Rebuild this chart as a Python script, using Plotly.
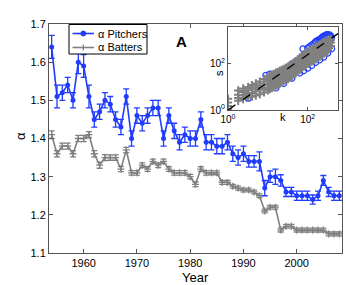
import plotly.graph_objects as go

# ---------------- data ----------------
years = list(range(1954, 2009))
alpha_pitchers = [1.64, 1.51, 1.52, 1.54, 1.50, 1.60, 1.59, 1.51, 1.45, 1.47,
                  1.50, 1.49, 1.45, 1.43, 1.51, 1.40, 1.46, 1.44, 1.46, 1.48,
                  1.48, 1.40, 1.46, 1.42, 1.39, 1.41, 1.40, 1.40, 1.45, 1.39,
                  1.39, 1.38, 1.38, 1.39, 1.36, 1.35, 1.36, 1.34, 1.34, 1.34,
                  1.27, 1.30, 1.30, 1.29, 1.26, 1.26, 1.25, 1.25, 1.25, 1.24,
                  1.25, 1.29, 1.26, 1.25, 1.25]
err_pitchers = [0.03, 0.03, 0.02, 0.02, 0.02, 0.03, 0.03, 0.03, 0.02, 0.02,
                0.02, 0.02, 0.02, 0.02, 0.02, 0.02, 0.02, 0.02, 0.02, 0.02,
                0.02, 0.02, 0.02, 0.02, 0.02, 0.02, 0.02, 0.02, 0.02, 0.02,
                0.02, 0.02, 0.02, 0.02, 0.02, 0.02, 0.02, 0.015, 0.015, 0.025,
                0.02, 0.015, 0.02, 0.015, 0.012, 0.012, 0.012, 0.012, 0.012, 0.012,
                0.012, 0.013, 0.012, 0.012, 0.012]
alpha_batters = [1.41, 1.36, 1.38, 1.38, 1.36, 1.40, 1.40, 1.41, 1.36, 1.33,
                 1.35, 1.35, 1.35, 1.32, 1.37, 1.31, 1.31, 1.33, 1.32, 1.34,
                 1.33, 1.34, 1.32, 1.31, 1.31, 1.31, 1.30, 1.28, 1.32, 1.31,
                 1.31, 1.31, 1.285, 1.285, 1.275, 1.27, 1.265, 1.265, 1.26, 1.25,
                 1.21, 1.22, 1.22, 1.16, 1.17, 1.17, 1.16, 1.16, 1.16, 1.16,
                 1.16, 1.16, 1.15, 1.15, 1.15]
err_batters = [0.01, 0.008, 0.008, 0.008, 0.008, 0.008, 0.008, 0.008, 0.008, 0.008,
               0.008, 0.007, 0.007, 0.007, 0.007, 0.006, 0.006, 0.006, 0.006, 0.006,
               0.006, 0.006, 0.006, 0.006, 0.006, 0.006, 0.006, 0.006, 0.006, 0.006,
               0.005, 0.005, 0.005, 0.005, 0.005, 0.005, 0.005, 0.005, 0.005, 0.005,
               0.005, 0.005, 0.005, 0.005, 0.005, 0.005, 0.005, 0.005, 0.005, 0.005,
               0.005, 0.005, 0.005, 0.005, 0.005]

# inset: strength s vs degree k (read approximately from the cloud)
inset_batters_k = [1, 1, 1, 1,
                   1.8, 1.8, 1.8, 1.8,
                   2.4, 2.4, 2.4, 2.4,
                   3.2, 3.2, 3.2, 3.2,
                   4, 4, 4, 4,
                   5, 5, 5, 5,
                   6.3, 6.3, 6.3, 6.3,
                   8, 8, 8, 8,
                   10, 10, 10, 10,
                   11.2, 11.2, 11.2, 11.2,
                   12.6, 12.6, 12.6, 12.6,
                   14.1, 14.1, 14.1, 14.1,
                   16, 16, 16, 16,
                   17.8, 17.8, 17.8, 17.8,
                   20, 20, 20, 20,
                   22.4, 22.4, 22.4, 22.4,
                   25, 25, 25, 25,
                   28.2, 28.2, 28.2, 28.2,
                   32, 32, 32, 32,
                   35.5, 35.5, 35.5, 35.5,
                   40, 40, 40, 40,
                   44.7, 44.7, 44.7, 44.7,
                   50, 50, 50, 50,
                   56.2, 56.2, 56.2, 56.2,
                   63, 63, 63, 63,
                   70.8, 70.8, 70.8, 70.8,
                   80, 80, 80, 80,
                   89.1, 89.1, 89.1, 89.1,
                   100, 100, 100, 100,
                   112, 112, 112, 112,
                   126, 126, 126, 126,
                   141, 141, 141, 141,
                   160, 160, 160, 160,
                   178, 178, 178, 178,
                   200, 200, 200, 200,
                   224, 224, 224, 224,
                   250, 250, 250, 250,
                   282, 282, 282, 282,
                   320, 320, 320, 320,
                   340, 340, 340, 340,
                   380, 380, 380]
inset_batters_s = [1.1, 1.5, 2.1, 3.1,
                   2.5, 3.3, 4.6, 7,
                   3, 4.2, 6, 8.5,
                   3.5, 5, 7.2, 10,
                   3.8, 5.5, 8.3, 12,
                   4.2, 6.5, 9.8, 14,
                   4.8, 7.5, 11.5, 17,
                   5.8, 9, 14, 22,
                   7.2, 11.5, 17.5, 28,
                   8, 12.5, 19, 31,
                   9, 14, 21, 34,
                   10, 15.5, 23.5, 37,
                   11.5, 17, 26, 41,
                   12.5, 19, 29, 45,
                   14, 21, 32, 50,
                   16, 23.5, 36, 55,
                   18, 26, 40, 60,
                   20, 29.5, 45, 68,
                   22, 33, 50, 76,
                   25.5, 38, 56, 87,
                   29, 43, 63, 98,
                   34, 50, 74, 114,
                   39, 58, 85, 130,
                   47, 70, 102, 157,
                   55, 83, 120, 185,
                   66, 100, 145, 222,
                   78, 117, 170, 260,
                   89, 132, 195, 300,
                   100, 148, 220, 340,
                   112, 167, 247, 385,
                   126, 186, 275, 430,
                   141, 212, 316, 495,
                   158, 240, 360, 560,
                   178, 270, 400, 630,
                   200, 300, 450, 700,
                   232, 350, 520, 800,
                   270, 410, 600, 900,
                   320, 480, 700, 1000,
                   380, 560, 800, 1100,
                   480, 700, 950, 1150,
                   600, 850, 1150]
inset_pitchers_k = [3.2, 8.9, 11.2, 40, 76,
                    100, 112, 126, 141, 158,
                    160, 178, 200, 224, 251, 282, 300, 316, 355, 380, 398,
                    200, 224, 251, 282, 316, 355,
                    16, 25, 40, 63, 79, 100, 126, 158, 200, 251, 316, 398]
inset_pitchers_s = [3.2, 32, 36, 100, 450,
                    480, 560, 650, 750, 870,
                    950, 1050, 1150, 1400, 1600, 1750, 1800, 1850, 1800, 1600, 1300,
                    1000, 1250, 1400, 1500, 1450, 1400,
                    9, 14, 24, 40, 50, 65, 85, 115, 150, 195, 290, 450]
fit_exponent = 1.2

blue = "#1f3cff"
gray = "#808080"
axc = "#555555"
font = "Liberation Sans, Arial, sans-serif"

# plot-area geometry (pixels) used only to place decorations
L, T, W, H = 49, 24, 293, 229


def px(x, y):
    return (x - L) / W, (T + H - y) / H


fig = go.Figure()

fig.add_trace(go.Scatter(
    x=years, y=alpha_batters, mode="lines+markers", name="\u03b1 Batters",
    line=dict(color=gray, width=1.6),
    marker=dict(symbol="cross-thin", size=5, line=dict(color=gray, width=1.3)),
    error_y=dict(type="data", array=err_batters, color=gray, thickness=1.3, width=3),
    showlegend=False,
))
fig.add_trace(go.Scatter(
    x=years, y=alpha_pitchers, mode="lines+markers", name="\u03b1 Pitchers",
    line=dict(color=blue, width=1.6),
    marker=dict(symbol="circle", size=5, color=blue),
    error_y=dict(type="data", array=err_pitchers, color=blue, thickness=1.3, width=3),
    showlegend=False,
))

# inset
fig.add_trace(go.Scatter(
    x=inset_pitchers_k, y=inset_pitchers_s, mode="markers", showlegend=False,
    marker=dict(symbol="circle-open", size=6, color=blue, line=dict(width=1.2)),
    xaxis="x2", yaxis="y2"))
fig.add_trace(go.Scatter(
    x=inset_batters_k, y=inset_batters_s, mode="markers", showlegend=False,
    marker=dict(symbol="cross-thin", size=6, color=gray, line=dict(width=2, color=gray)),
    xaxis="x2", yaxis="y2"))
kfit = [1, 10 ** 2.76]
fig.add_trace(go.Scatter(
    x=kfit, y=[k ** fit_exponent for k in kfit], mode="lines", showlegend=False,
    line=dict(color="black", width=1.3, dash="dash"),
    xaxis="x2", yaxis="y2"))

# manual MATLAB-style legend
shapes = []
x0, y0 = px(69, 54)
x1, y1 = px(147, 24.5)
shapes.append(dict(type="rect", xref="paper", yref="paper", x0=x0, y0=y0, x1=x1, y1=y1,
                   line=dict(color="black", width=1), fillcolor="white", layer="above"))
for row_y, col in ((33.5, blue), (47.5, gray)):
    a, b = px(72.5, row_y)
    c, _ = px(94, row_y)
    shapes.append(dict(type="line", xref="paper", yref="paper", x0=a, y0=b, x1=c, y1=b,
                       line=dict(color=col, width=1.6), layer="above"))
cx, cy = px(83.3, 33.5)
rx, ry = 2.5 / W, 2.5 / H
shapes.append(dict(type="circle", xref="paper", yref="paper", x0=cx - rx, y0=cy - ry,
                   x1=cx + rx, y1=cy + ry, fillcolor=blue, line=dict(color=blue, width=1),
                   layer="above"))
cx, cy = px(83.3, 47.5)
shapes.append(dict(type="line", xref="paper", yref="paper", x0=cx, y0=cy - 3 / H,
                   x1=cx, y1=cy + 3 / H, line=dict(color=gray, width=1.3), layer="above"))


def note(text, x, y, size=11, angle=0, xanchor="center"):
    xp, yp = px(x, y)
    return dict(text=text, xref="paper", yref="paper", x=xp, y=yp, showarrow=False,
                xanchor=xanchor, yanchor="middle", textangle=angle, font=dict(size=size))


annotations = [
    note("Year", 195, 277, size=13),
    note("\u03b1", 20, 136, size=13, angle=-90),
    note("<b>A</b>", 181, 42, size=15),
    note("s", 219, 73, size=11, angle=-90),
    note("k", 283, 117, size=11),
    note("\u03b1 Pitchers", 96, 33.5, xanchor="left"),
    note("\u03b1 Batters", 96, 47.5, xanchor="left"),
]

fig.update_layout(
    width=346, height=285,
    margin=dict(l=L, r=346 - L - W, t=T, b=285 - T - H),
    paper_bgcolor="white", plot_bgcolor="white",
    font=dict(family=font, size=11, color="black"),
    showlegend=False,
    xaxis=dict(range=[1953.5, 2008.5], tickvals=[1960, 1970, 1980, 1990, 2000],
               ticks="inside", ticklen=4, tickcolor=axc, showline=True, linecolor=axc,
               linewidth=1, mirror="ticks", showgrid=False, zeroline=False,
               tickfont=dict(size=11)),
    yaxis=dict(range=[1.1, 1.7], tickvals=[1.1, 1.2, 1.3, 1.4, 1.5, 1.6, 1.7],
               ticktext=["1.1", "1.2", "1.3", "1.4", "1.5", "1.6", "1.7"],
               ticks="inside", ticklen=4, tickcolor=axc, showline=True, linecolor=axc,
               linewidth=1, mirror="ticks", showgrid=False, zeroline=False,
               tickfont=dict(size=11)),
    xaxis2=dict(type="log", range=[0, 2.76], domain=[px(228, 0)[0], px(338, 0)[0]],
                anchor="y2",
                tickvals=[1, 100], ticktext=["10<sup>0</sup>", "10<sup>2</sup>"],
                ticks="inside", ticklen=3, tickcolor=axc, showline=True, linecolor=axc,
                mirror="ticks", showgrid=False, zeroline=False, tickfont=dict(size=10)),
    yaxis2=dict(type="log", range=[0, 3.62], domain=[px(0, 110)[1], px(0, 26.5)[1]],
                anchor="x2",
                tickvals=[1, 100], ticktext=["10<sup>0</sup>", "10<sup>2</sup>"],
                ticks="inside", ticklen=3, tickcolor=axc, showline=True, linecolor=axc,
                mirror="ticks", showgrid=False, zeroline=False, tickfont=dict(size=10)),
    shapes=shapes,
    annotations=annotations,
)

fig.write_html("out.html", config={"displayModeBar": False},
               post_script="document.body.style.margin='0px';")
